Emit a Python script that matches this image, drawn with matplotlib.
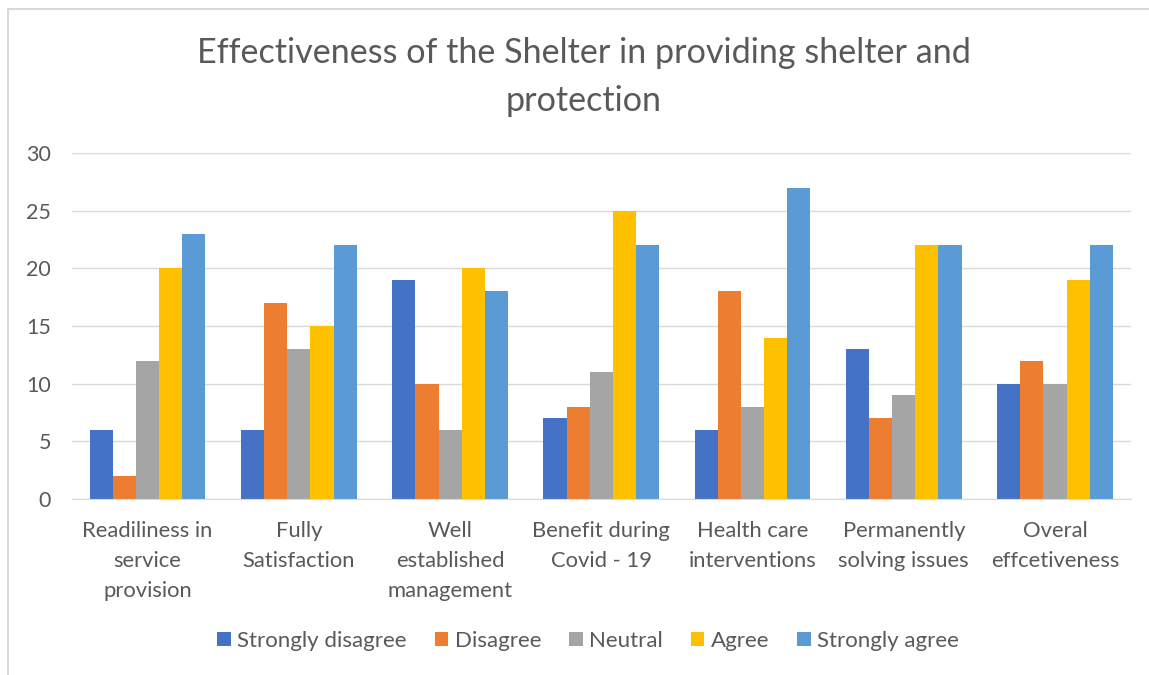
import numpy as np
import matplotlib.pyplot as plt
from matplotlib.patches import Rectangle

plt.rcParams['font.family'] = ['Lato', 'DejaVu Sans']

categories = ["Readiliness in\nservice\nprovision", "Fully\nSatisfaction", "Well\nestablished\nmanagement",
              "Benefit during\nCovid - 19", "Health care\ninterventions", "Permanently\nsolving issues",
              "Overal\neffcetiveness"]
strongly_disagree = [6, 6, 19, 7, 6, 13, 10]
disagree = [2, 17, 10, 8, 18, 7, 12]
neutral = [12, 13, 6, 11, 8, 9, 10]
agree = [20, 15, 20, 25, 14, 22, 19]
strongly_agree = [23, 22, 18, 22, 27, 22, 22]

series = [("Strongly disagree", strongly_disagree, "#4472C4"),
          ("Disagree", disagree, "#ED7D31"),
          ("Neutral", neutral, "#A5A5A5"),
          ("Agree", agree, "#FFC000"),
          ("Strongly agree", strongly_agree, "#5B9BD5")]

txt = "#595959"
fig = plt.figure(figsize=(11.49, 6.75), dpi=100)
ax = fig.add_axes([0.0627, 0.2607, 0.9213, 0.5126])

x = np.arange(len(categories))
w = 0.153
for i, (name, vals, col) in enumerate(series):
    ax.bar(x + (i - 2) * w, vals, w, color=col, label=name, zorder=3)

ax.set_xlim(-0.5, len(categories) - 0.5)
ax.set_ylim(0, 30)
ax.set_yticks(range(0, 31, 5))
ax.set_xticks(x)
ax.set_xticklabels(categories, fontsize=15.8, color=txt, linespacing=1.63)
ax.tick_params(axis='y', labelsize=15.5, labelcolor=txt, length=0, pad=15)
ax.tick_params(axis='x', length=0, pad=16)
ax.grid(axis='y', color="#D9D9D9", lw=1, zorder=0)
for s in ['top', 'right', 'left']:
    ax.spines[s].set_visible(False)
ax.spines['bottom'].set_color("#D9D9D9")
ax.spines['bottom'].set_zorder(4)

fig.text(0.508, 0.886, "Effectiveness of the Shelter in providing shelter and\nprotection",
         ha='center', va='center', fontsize=24.6, color=txt, linespacing=1.59)

fig.legend(loc='center', bbox_to_anchor=(0.512, 0.05), ncol=5, frameon=False,
           fontsize=16, labelcolor=txt, handlelength=0.6, handleheight=0.6,
           handletextpad=0.3, columnspacing=1.26)

fig.patches.append(Rectangle((8 / 1149, -0.1), 1.2, 1 - 9 / 675 + 0.1, transform=fig.transFigure,
                             fill=False, edgecolor="#D9D9D9", lw=1.5))

fig.savefig("out.png", dpi=100)
